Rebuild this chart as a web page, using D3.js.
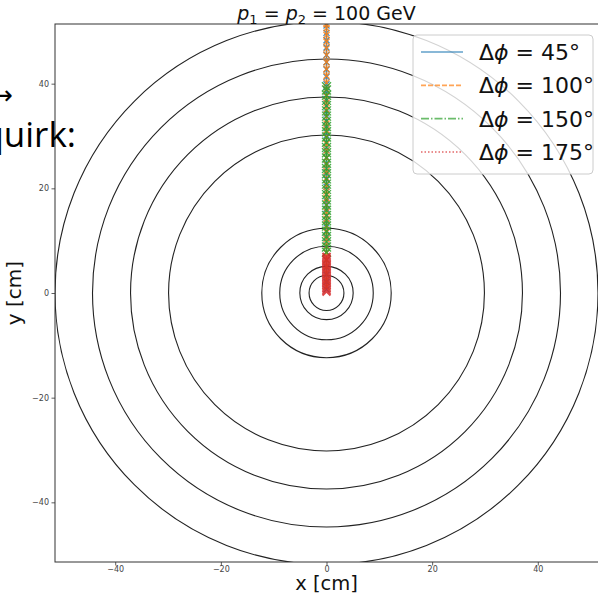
<!DOCTYPE html>
<html>
<head>
<meta charset="utf-8">
<script src="https://cdn.jsdelivr.net/npm/d3@7"></script>
<style>
  body { margin: 0; background: #fff; }
  svg { display: block; }
</style>
</head>
<body>
<div id="canvas"></div>
<script>
// detector layer radii [cm]
const layerRadii = [3.3, 5.05, 8.85, 12.25, 29.9, 37.1, 44.3, 51.4];
const axisLimits = [-51.4, 51.4];
const tickValues = [-40, -20, 0, 20, 40];

// hit positions along x = 0 for each opening angle
const seriesNames = ["45°", "100°", "150°", "175°"];
const yHits45 = [0.7, 2.1, 3.5, 4.9, 6.3, 7.7, 9.1, 10.5, 11.9, 13.3, 14.7, 16.1, 17.5, 18.9, 20.3, 21.7, 23.1, 24.5, 25.9, 27.3, 28.7, 30.1, 31.5, 32.9, 34.3, 35.7, 37.1, 38.5, 39.9, 41.3, 42.7, 44.1, 45.5, 46.9, 48.3, 49.7, 51.1];
const yHits100 = [1.2, 2.5, 3.8, 5.1, 6.4, 7.7, 9.0, 10.3, 11.6, 12.9, 14.2, 15.5, 16.8, 18.1, 19.4, 20.7, 22.0, 23.3, 24.6, 25.9, 27.2, 28.5, 29.8, 31.1, 32.4, 33.7, 35.0, 36.3, 37.6, 38.9, 40.2, 41.5, 42.8, 44.1, 45.4, 46.7, 48.0, 49.3, 50.6, 51.4];
const yHits150 = [7.8, 8.8, 9.8, 10.8, 11.8, 12.8, 13.8, 14.8, 15.8, 16.8, 17.8, 18.8, 19.8, 20.8, 21.8, 22.8, 23.8, 24.8, 25.8, 26.8, 27.8, 28.8, 29.8, 30.8, 31.8, 32.8, 33.8, 34.8, 35.8, 36.8, 37.8, 38.8, 39.4];
const yHits175 = [0.3, 0.6, 0.9, 1.2, 1.5, 1.8, 2.1, 2.4, 2.7, 3.0, 3.3, 3.6, 3.9, 4.2, 4.5, 4.8, 5.1, 5.4, 5.7, 6.0, 6.3, 6.6, 6.9];

const width = 598, height = 601;
const plot = { left: 55, right: 598, top: 24, bottom: 562 };

const svg = d3.select("#canvas").append("svg")
    .attr("width", width)
    .attr("height", height)
    .attr("viewBox", "0 0 " + width + " " + height);

const xScale = d3.scaleLinear().domain(axisLimits).range([plot.left, plot.right]);
const yScale = d3.scaleLinear().domain(axisLimits).range([plot.bottom, plot.top]);

svg.append("defs").append("clipPath").attr("id", "clip")
    .append("rect")
    .attr("x", plot.left).attr("y", plot.top)
    .attr("width", plot.right - plot.left).attr("height", plot.bottom - plot.top);

const g = svg.append("g").attr("clip-path", "url(#clip)");

// detector layers
g.selectAll("circle.layer")
    .data(layerRadii)
    .enter().append("circle")
    .attr("class", "layer")
    .attr("cx", xScale(0))
    .attr("cy", yScale(0))
    .attr("r", d => xScale(d) - xScale(0))
    .attr("fill", "none")
    .attr("stroke", "#222")
    .attr("stroke-width", 1.1);

// series
const series = [
    { name: seriesNames[0], ys: yHits45, color: "#1f77b4", dash: null, size: 3, sw: 1.3 },
    { name: seriesNames[1], ys: yHits100, color: "#ff7f0e", dash: "5,2", size: 3, sw: 1.3 },
    { name: seriesNames[2], ys: yHits150, color: "#2ca02c", dash: "8,2,1.5,2", size: 4.5, sw: 1.3 },
    { name: seriesNames[3], ys: yHits175, color: "#d62728", dash: "1.5,2", size: 4, sw: 2 }
];

const line = d3.line().x(() => xScale(0)).y(d => yScale(d));

series.forEach(s => {
    const sg = g.append("g").attr("opacity", 0.85);
    sg.append("path")
        .attr("d", line(s.ys))
        .attr("fill", "none")
        .attr("stroke", s.color)
        .attr("stroke-width", 1.5)
        .attr("stroke-dasharray", s.dash);
    sg.selectAll("path.mk")
        .data(s.ys)
        .enter().append("path")
        .attr("class", "mk")
        .attr("d", d => {
            const cx = xScale(0), cy = yScale(d), r = s.size;
            return "M" + (cx - r) + "," + (cy - r) + "L" + (cx + r) + "," + (cy + r) +
                   "M" + (cx - r) + "," + (cy + r) + "L" + (cx + r) + "," + (cy - r);
        })
        .attr("stroke", s.color)
        .attr("stroke-width", s.sw)
        .attr("fill", "none");
});

// axes
const xAxis = svg.append("g")
    .attr("transform", "translate(0," + plot.bottom + ")")
    .call(d3.axisBottom(xScale).tickValues(tickValues).tickSize(3.5).tickPadding(1)
        .tickFormat(d => d < 0 ? "\u2212" + Math.abs(d) : d));
const yAxis = svg.append("g")
    .attr("transform", "translate(" + plot.left + ",0)")
    .call(d3.axisLeft(yScale).tickValues(tickValues).tickSize(3.5).tickPadding(2.5)
        .tickFormat(d => d < 0 ? "\u2212" + Math.abs(d) : d));
[xAxis, yAxis].forEach(a => {
    a.select(".domain").remove();
    a.selectAll("line").attr("stroke", "#333").attr("stroke-width", 0.8);
    a.selectAll("text")
        .attr("font-family", "DejaVu Sans")
        .attr("font-size", "8px")
        .attr("fill", "#444");
});

// spines
svg.append("rect")
    .attr("x", plot.left).attr("y", plot.top)
    .attr("width", plot.right - plot.left + 5).attr("height", plot.bottom - plot.top)
    .attr("fill", "none")
    .attr("stroke", "#333")
    .attr("stroke-width", 1);

// title
const title = svg.append("text")
    .attr("x", xScale(0))
    .attr("y", 20)
    .attr("text-anchor", "middle")
    .attr("font-family", "DejaVu Sans")
    .attr("font-size", "19px")
    .attr("fill", "#111");
title.append("tspan").attr("font-style", "italic").text("p");
title.append("tspan").attr("font-size", "13px").attr("dy", 4).text("1");
title.append("tspan").attr("dy", -4).text(" = ");
title.append("tspan").attr("font-style", "italic").text("p");
title.append("tspan").attr("font-size", "13px").attr("dy", 4).text("2");
title.append("tspan").attr("dy", -4).text(" = 100 GeV");

// axis labels
svg.append("text")
    .attr("x", xScale(0))
    .attr("y", 590)
    .attr("text-anchor", "middle")
    .attr("font-family", "DejaVu Sans")
    .attr("font-size", "19.5px")
    .attr("fill", "#111")
    .text("x [cm]");
svg.append("text")
    .attr("transform", "translate(21," + yScale(0) + ") rotate(-90)")
    .attr("text-anchor", "middle")
    .attr("font-family", "DejaVu Sans")
    .attr("font-size", "20px")
    .attr("fill", "#111")
    .text("y [cm]");

// legend
const legend = svg.append("g");
legend.append("rect")
    .attr("x", 413).attr("y", 35)
    .attr("width", 180).attr("height", 139)
    .attr("rx", 4)
    .attr("fill", "#fff")
    .attr("fill-opacity", 0.8)
    .attr("stroke", "#ccc")
    .attr("stroke-width", 1);
const rowY = d3.scalePoint().domain(seriesNames).range([52, 152]);
series.forEach(s => {
    const y = rowY(s.name);
    legend.append("line")
        .attr("x1", 421).attr("x2", 463)
        .attr("y1", y).attr("y2", y)
        .attr("stroke", s.color)
        .attr("stroke-opacity", 0.7)
        .attr("stroke-width", 1.6)
        .attr("stroke-dasharray", s.dash);
    const t = legend.append("text")
        .attr("x", 479).attr("y", y)
        .attr("dy", "0.36em")
        .attr("font-family", "DejaVu Sans")
        .attr("font-size", "22px")
        .attr("fill", "#111");
    t.append("tspan").text("\u0394");
    t.append("tspan").attr("font-style", "italic").text("\u03D5");
    t.append("tspan").text(" = " + s.name);
});

// slide text overlapping the figure
svg.append("text")
    .attr("x", 13).attr("y", 104)
    .attr("text-anchor", "end")
    .attr("font-family", "DejaVu Sans")
    .attr("font-size", "26px")
    .attr("fill", "#000")
    .text("\u2192");
svg.append("text")
    .attr("x", 76).attr("y", 147)
    .attr("text-anchor", "end")
    .attr("font-family", "Open Sans")
    .attr("font-size", "35px")
    .attr("fill", "#000")
    .text("quirk:");
</script>
</body>
</html>
